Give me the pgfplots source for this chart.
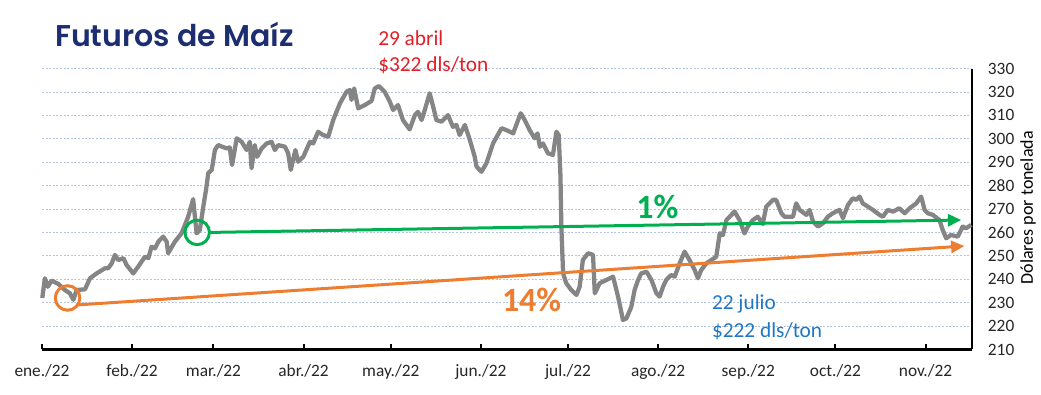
\documentclass[border=0pt]{standalone}
\usepackage{pgfplots}
\pgfplotsset{compat=1.18}
\usepackage{fontspec}
\setmainfont{Carlito}
\newfontfamily\titlefont{Poppins SemiBold}
\usetikzlibrary{arrows.meta}
\definecolor{navy}{HTML}{1C2D70}
\definecolor{cgray}{HTML}{858585}
\definecolor{cgreen}{HTML}{00B050}
\definecolor{corange}{HTML}{ED7D31}
\definecolor{cred}{HTML}{E41E26}
\definecolor{cblue}{HTML}{1F78C4}
\definecolor{gridblue}{HTML}{B4C4E0}
\begin{document}
\begin{tikzpicture}
\useasboundingbox (0,0) rectangle (780.75pt,295.5pt);
\begin{axis}[
  at={(31.5pt,33.4pt)}, anchor=south west,
  scale only axis, width=697.5pt, height=210.7pt,
  xmin=0, xmax=320, ymin=210, ymax=330,
  axis x line*=bottom, axis y line*=right,
  x axis line style={line width=2.2pt,-},
  y axis line style={line width=2.2pt,-},
  xtick={0,31,59,90,120,151,181,212,243,273,304},
  xticklabels={ene./22,feb./22,mar./22,abr./22,may./22,jun./22,jul./22,ago./22,sep./22,oct./22,nov./22},
  xtick align=inside,
  x tick style={line width=1.5pt, black},
  major tick length=4pt,
  ytick={210,220,...,330},
  y tick style={draw=none},
  yticklabel pos=right,
  yticklabel style={anchor=west, xshift=8.4pt},
  xticklabel style={yshift=-7.5pt},
  tick label style={font=\fontsize{13pt}{15pt}\selectfont, text=black!85},
  /pgf/number format/assume math mode=true,
  ymajorgrids,
  grid style={dash pattern=on 1.5pt off 1.2pt, line width=0.5pt, gridblue},
  ylabel={Dólares por tonelada},
  ylabel style={at={(axis description cs:1.0602,0.504)}, anchor=center, rotate=0, font=\fontsize{13.5pt}{15pt}\selectfont},
  clip=false,
]
\addplot[cgray, line width=3.2pt, line join=round] coordinates {
(0.1,232) (1.0,240.4) (2.0,236.8) (3.3,239.4) (5.6,238) (7.9,235.4) (9.6,234) (10.8,231.2) (11.9,235.4)
(14.8,235.7) (16.5,240.4) (18.8,242.5) (21.7,244.7) (22.8,244.7) (24.0,246.8) (25.1,250.4) (26.2,248.2)
(28.0,249) (29.1,246.1) (31.4,242.5) (33.1,245.4) (35.4,249.6) (36.6,249) (37.7,253.9) (38.9,253.2)
(40.0,256) (41.7,258.2) (42.9,256) (43.4,251.1) (45.7,256) (48.0,259.6) (50.3,266.7) (52.0,274.2)
(53.2,259.6) (54.3,261) (55.5,271) (56.6,279.5) (57.2,285.3) (58.4,286.7) (59.5,295.2) (60.6,297.3)
(63.5,295.9) (64.6,296.3) (65.4,288.8) (67.0,300.2) (68.7,298.7) (70.4,295.2) (71.5,298.7) (72.1,287.4)
(73.2,297.3) (74.0,292.3) (75.6,295.9) (77.3,298) (79.0,298.7) (80.1,295.2) (81.3,297.3) (83.6,296.6)
(84.7,293.8) (85.6,286.7) (87.2,295.2) (88.1,290.2) (89.9,292.3) (92.2,298.7) (93.3,298) (95.0,303)
(96.7,301.6) (98.5,300.9) (100.2,308) (102.5,315.1) (104.8,320.1) (105.9,320.8) (106.5,316.6) (107.4,321.5)
(108.8,313) (111.1,314.4) (113.4,316.2) (114.5,321.5) (115.9,322.5) (117.9,320.1) (119.7,315.8) (120.8,312.3)
(122.5,314.4) (124.2,308) (126.5,304) (128.3,310.1) (129.4,311.5) (130.6,308) (131.7,312.3) (133.4,319.4)
(134.6,313.7) (135.7,308) (137.4,307.3) (139.7,310.1) (141.4,305.1) (142.6,305.9) (143.7,301.6) (145.5,305.9)
(147.2,299.5) (148.9,292.3) (149.5,288.1) (151.2,285.9) (152.9,289.5) (155.2,298) (158.1,304.5) (159.8,303.7)
(162.1,302.3) (163.2,305.9) (164.7,310.9) (166.1,308) (167.8,303.7) (169.5,300.2) (170.5,302.3) (171.3,296.6)
(172.4,298) (174.1,293.8) (175.8,293.1) (177.0,303) (177.8,301.6) (178.4,283.8) (178.7,262.5) (179.3,242.5)
(180.4,238.3) (182.1,235.4) (183.9,233.3) (185.0,236.8) (186.1,248.2) (187.9,251.1) (189.6,250.4) (190.2,234)
(191.9,238.3) (194.2,239.7) (196.5,241.1) (198.2,232.6) (199.9,222.6) (201.1,223.3) (202.8,228.3) (203.9,235.4)
(205.1,239.7) (206.2,242.5) (208.0,243.2) (209.7,239.7) (211.4,234) (212.5,232.6) (213.7,236.8) (214.8,239.7)
(216.5,241.8) (217.7,241.1) (219.4,246.8) (221.1,251.8) (222.8,248.2) (224.6,243.9) (225.7,240.4) (226.8,243.9)
(228.6,246.8) (230.3,248.2) (232.0,249.6) (233.2,259.6) (234.3,258.9) (235.5,265.3) (238.3,268.9) (240.0,265.3)
(241.7,259.6) (242.9,262.5) (244.6,265.3) (246.3,266.7) (248.0,263.6) (249.2,271) (251.5,273.9) (252.6,273.9)
(254.4,268.2) (255.5,266.7) (258.4,266.7) (259.5,272.4) (260.7,269.6) (263.0,267.5) (264.1,269.6) (265.3,264.6)
(267.0,262.5) (268.7,263.9) (270.4,266.7) (272.1,268.2) (274.4,269.6) (275.6,266.1) (277.3,271.7) (279.0,274.6)
(280.2,273.9) (281.3,275.3) (282.4,272.4) (284.2,271) (285.9,269.6) (288.2,267.5) (289.3,266.7) (291.0,269.6)
(292.8,268.9) (295.0,270.3) (296.8,268.2) (298.5,270.3) (300.8,272.4) (302.5,275.3) (303.7,269.6) (304.8,268.2)
(306.5,267.5) (308.8,265.3) (309.9,261.1) (311.1,257.5) (312.8,258.9) (315.1,258.2) (316.8,262.5) (318.0,261.8)
(319.7,263.2)
};
\addplot[corange, line width=2.25pt, -{Triangle[length=10pt,width=9pt]}] coordinates {(11.9,229) (317.4,254.2)};
\addplot[cgreen, line width=2.25pt, -{Triangle[length=10pt,width=9pt]}] coordinates {(58.0,260) (316.3,265.3)};
\addplot[corange, line width=2.25pt, only marks, mark=o, mark size=9.2pt] coordinates {(8.8,232)};
\addplot[cgreen, line width=2.25pt, only marks, mark=o, mark size=9.2pt] coordinates {(53.4,260)};
\end{axis}
\node[anchor=base west, inner sep=0, text=navy, font=\titlefont\fontsize{22.5pt}{26pt}\selectfont] at (41.25pt,260.5pt) {Futuros de Maíz};
\node[anchor=base west, inner sep=0, text=cred, font=\fontsize{16pt}{18pt}\selectfont] at (283.5pt,261.75pt) {29 abril};
\node[anchor=base west, inner sep=0, text=cred, font=\fontsize{16pt}{18pt}\selectfont] at (283.5pt,241.7pt) {\$322 dls/ton};
\node[anchor=base west, inner sep=0, text=cblue, font=\fontsize{16pt}{18pt}\selectfont] at (533.8pt,63.5pt) {22 julio};
\node[anchor=base west, inner sep=0, text=cblue, font=\fontsize{16pt}{18pt}\selectfont] at (533.8pt,42.5pt) {\$222 dls/ton};
\node[anchor=base west, inner sep=0, text=cgreen, font=\bfseries\fontsize{25.5pt}{28pt}\selectfont] at (477pt,132pt) {1\%};
\node[anchor=base west, inner sep=0, text=corange, font=\bfseries\fontsize{25.5pt}{28pt}\selectfont] at (376.3pt,61.7pt) {14\%};
\end{tikzpicture}
\end{document}
